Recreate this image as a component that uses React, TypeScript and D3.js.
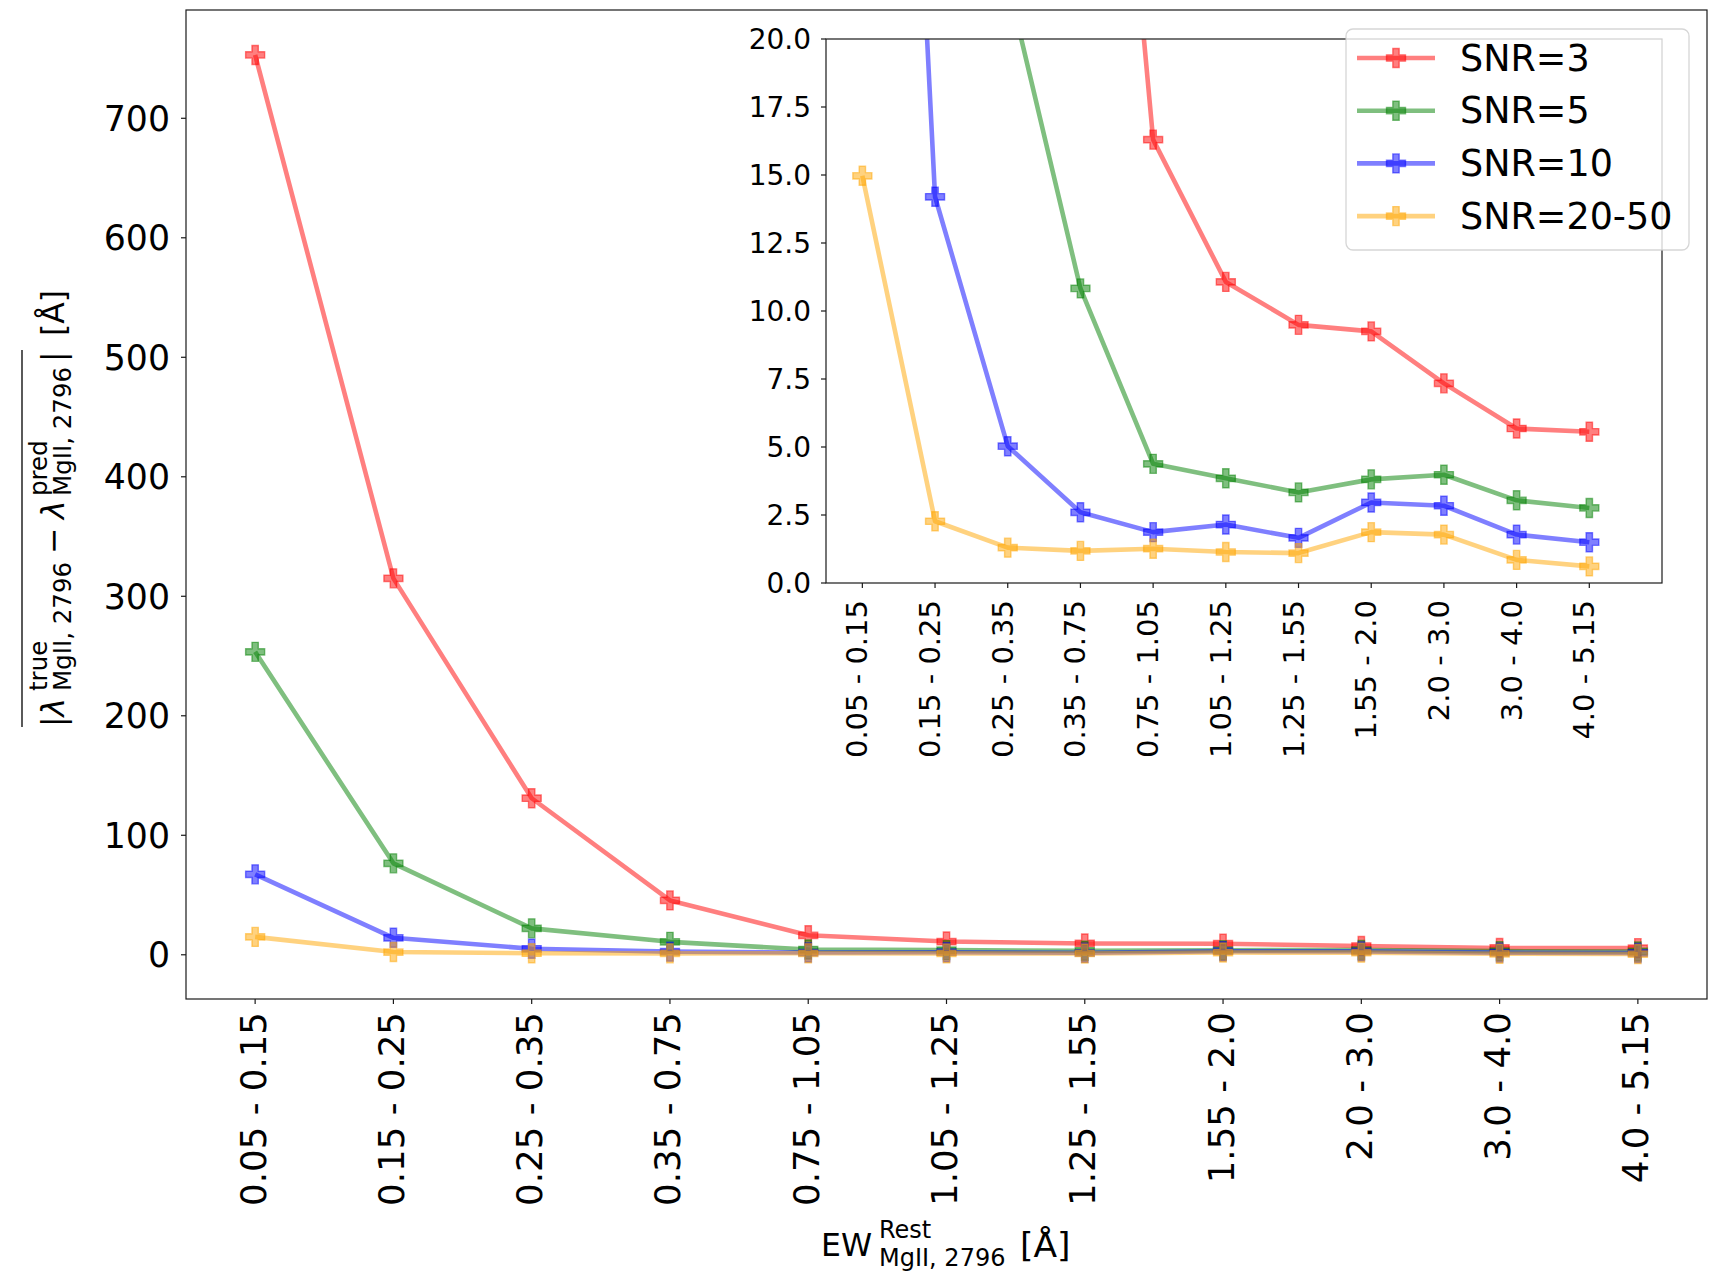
import React from 'react';
import * as d3 from 'd3';

const categories = [
  '0.05 - 0.15', '0.15 - 0.25', '0.25 - 0.35', '0.35 - 0.75', '0.75 - 1.05',
  '1.05 - 1.25', '1.25 - 1.55', '1.55 - 2.0', '2.0 - 3.0', '3.0 - 4.0', '4.0 - 5.15',
];
const snr3 = [753, 315, 131, 45.5, 16.3, 11.07, 9.49, 9.25, 7.34, 5.68, 5.56];
const snr5 = [253.5, 76.5, 22.1, 10.83, 4.38, 3.85, 3.33, 3.81, 3.98, 3.04, 2.76];
const snr10 = [67.3, 14.2, 5.03, 2.6, 1.87, 2.15, 1.66, 2.96, 2.84, 1.78, 1.5];
const snr2050 = [14.97, 2.27, 1.3, 1.18, 1.26, 1.14, 1.1, 1.87, 1.78, 0.85, 0.61];
const seriesNames = ['SNR=3', 'SNR=5', 'SNR=10', 'SNR=20-50'];
const seriesColors = ['#ff0000', '#008000', '#0000ff', '#ffa500'];
const mainYTicks = [0, 100, 200, 300, 400, 500, 600, 700];
const insetYTicks = [0, 2.5, 5, 7.5, 10, 12.5, 15, 17.5, 20];

const W = 1722, H = 1280;
const M = { l: 186, r: 1707, t: 10, b: 999 };
const I = { l: 826, r: 1662, t: 39, b: 583 };
const FONT = 'DejaVu Sans, sans-serif';
const ALPHA = 0.5;
const LW = 4.6;
const MS = 19;
const SPINE = '#1a1a1a';

function plusPath(cx: number, cy: number, s: number) {
  const a = s / 6;
  const pts = [
    [-a, -3 * a], [a, -3 * a], [a, -a], [3 * a, -a], [3 * a, a], [a, a],
    [a, 3 * a], [-a, 3 * a], [-a, a], [-3 * a, a], [-3 * a, -a], [-a, -a],
  ];
  return 'M' + pts.map(p => `${cx + p[0]},${cy + p[1]}`).join('L') + 'Z';
}

function Series({ values, color, xs, ys }: any) {
  const gen = d3.line<number>().x((_, i) => xs(i)).y(d => ys(d));
  return (
    <g>
      <path d={gen(values) || ''} fill="none" stroke={color} strokeOpacity={ALPHA}
        strokeWidth={LW} strokeLinejoin="round" />
      {values.map((v: number, i: number) => (
        <path key={i} d={plusPath(xs(i), ys(v), MS)} fill={color} fillOpacity={ALPHA}
          stroke={color} strokeOpacity={ALPHA} strokeWidth={1.4} strokeLinejoin="miter" />
      ))}
    </g>
  );
}

export default function App() {
  const all = [snr3, snr5, snr10, snr2050];
  const flat = all.flat();
  const mn = d3.min(flat) as number;
  const mx = d3.max(flat) as number;
  const pad = (mx - mn) * 0.05;
  const xMain = d3.scaleLinear().domain([-0.5, categories.length - 0.5]).range([M.l, M.r]);
  const yMain = d3.scaleLinear().domain([mn - pad, mx + pad]).range([M.b, M.t]);
  const xIn = d3.scaleLinear().domain([-0.5, categories.length]).range([I.l, I.r]);
  const yIn = d3.scaleLinear().domain([0, 20]).range([I.b, I.t]);

  const subFs = 24.5;
  const xSubFs = 24;
  const mainLblFs = 31.5;

  return (
    <svg width={W} height={H} viewBox={`0 0 ${W} ${H}`}
      style={{ position: 'absolute', left: 0, top: 0, display: 'block', background: '#fff' }}
      fontFamily={FONT}>
      <rect x={0} y={0} width={W} height={H} fill="#fff" />
      <defs>
        <clipPath id="clipMain"><rect x={M.l} y={M.t} width={M.r - M.l} height={M.b - M.t} /></clipPath>
        <clipPath id="clipIn"><rect x={I.l} y={I.t} width={I.r - I.l} height={I.b - I.t} /></clipPath>
      </defs>

      {/* main axes */}
      <g clipPath="url(#clipMain)">
        {all.map((vals, k) => (
          <Series key={k} values={vals} color={seriesColors[k]} xs={xMain} ys={yMain} />
        ))}
      </g>
      <rect x={M.l} y={M.t} width={M.r - M.l} height={M.b - M.t} fill="none" stroke={SPINE} strokeWidth={1.2} />
      {mainYTicks.map(t => (
        <g key={t}>
          <line x1={M.l - 5} x2={M.l} y1={yMain(t)} y2={yMain(t)} stroke={SPINE} strokeWidth={1.2} />
          <text x={170} y={yMain(t)} dy="0.36em" textAnchor="end" fontSize={34.7} fill="#000">{t}</text>
        </g>
      ))}
      {categories.map((c, i) => (
        <g key={c}>
          <line x1={xMain(i)} x2={xMain(i)} y1={M.b} y2={M.b + 5} stroke={SPINE} strokeWidth={1.2} />
          <text transform={`translate(${xMain(i) + 10.5},${1012}) rotate(-90)`} textAnchor="end"
            fontSize={35.6} fill="#000">{c}</text>
        </g>
      ))}

      {/* y label */}
      <g transform="translate(64,508) rotate(-90)" fill="#000">
        <text x={-219} y={0} fontSize={mainLblFs}>|<tspan fontStyle="italic">λ</tspan></text>
        <text x={-183} y={-17} fontSize={subFs}>true</text>
        <text x={-183} y={7} fontSize={subFs}>MgII, 2796</text>
        <text x={-46} y={0} fontSize={mainLblFs}>−</text>
        <text x={-11} y={0} fontSize={mainLblFs} fontStyle="italic">λ</text>
        <text x={12} y={-17} fontSize={subFs}>pred</text>
        <text x={12} y={7} fontSize={subFs}>MgII, 2796</text>
        <text x={146} y={0} fontSize={mainLblFs}>|</text>
        <text x={172} y={0} fontSize={mainLblFs}>[Å]</text>
        <line x1={-219} x2={158} y1={-42} y2={-42} stroke="#000" strokeWidth={1.3} />
      </g>

      {/* x label */}
      <g fill="#000">
        <text x={821} y={1256} fontSize={mainLblFs}>EW</text>
        <text x={879} y={1237.5} fontSize={xSubFs}>Rest</text>
        <text x={879} y={1266} fontSize={xSubFs}>MgII, 2796</text>
        <text x={1020} y={1257} fontSize={34.5}>[Å]</text>
      </g>

      {/* inset axes */}
      <rect x={I.l} y={I.t} width={I.r - I.l} height={I.b - I.t} fill="#fff" />
      <g clipPath="url(#clipIn)">
        {all.map((vals, k) => (
          <Series key={k} values={vals} color={seriesColors[k]} xs={xIn} ys={yIn} />
        ))}
      </g>
      <rect x={I.l} y={I.t} width={I.r - I.l} height={I.b - I.t} fill="none" stroke={SPINE} strokeWidth={1.2} />
      {insetYTicks.map(t => (
        <g key={t}>
          <line x1={I.l - 5} x2={I.l} y1={yIn(t)} y2={yIn(t)} stroke={SPINE} strokeWidth={1.2} />
          <text x={811} y={yIn(t)} dy="0.36em" textAnchor="end" fontSize={28} fill="#000">{t.toFixed(1)}</text>
        </g>
      ))}
      {categories.map((c, i) => (
        <g key={c}>
          <line x1={xIn(i)} x2={xIn(i)} y1={I.b} y2={I.b + 5} stroke={SPINE} strokeWidth={1.2} />
          <text transform={`translate(${xIn(i) + 5},${600}) rotate(-90)`} textAnchor="end"
            fontSize={29} fill="#000">{c}</text>
        </g>
      ))}

      {/* legend */}
      <g>
        <rect x={1346} y={29} width={343} height={221} rx={7} fill="#fff" fillOpacity={0.8}
          stroke="#cccccc" strokeOpacity={0.8} strokeWidth={1.3} />
        {seriesNames.map((n, k) => {
          const cy = 58 + k * 52.7;
          return (
            <g key={n}>
              <line x1={1357} x2={1435} y1={cy} y2={cy} stroke={seriesColors[k]} strokeOpacity={ALPHA} strokeWidth={LW} />
              <path d={plusPath(1396, cy, MS)} fill={seriesColors[k]} fillOpacity={ALPHA}
                stroke={seriesColors[k]} strokeOpacity={ALPHA} strokeWidth={1.4} />
              <text x={1460} y={cy + 12.5} fontSize={36.5} fill="#000">{n}</text>
            </g>
          );
        })}
      </g>
    </svg>
  );
}
